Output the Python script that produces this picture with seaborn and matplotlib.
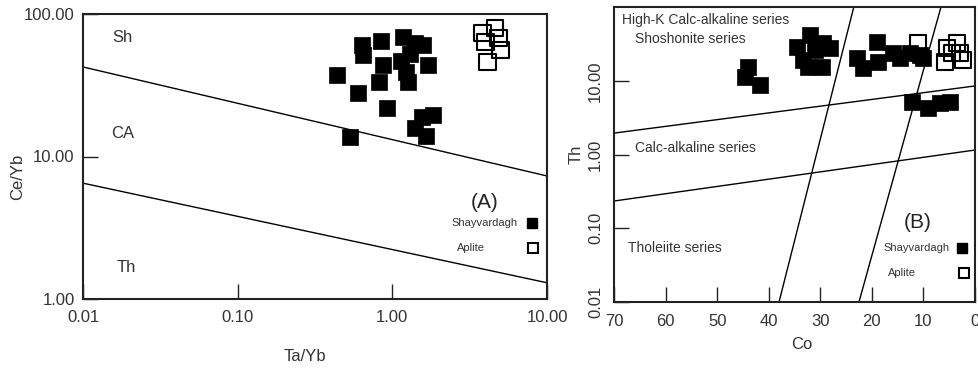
import numpy as np
import pandas as pd
import matplotlib
matplotlib.use("Agg")
import matplotlib.pyplot as plt
import seaborn as sns

# ---------------- data ----------------
# Panel A: Ce/Yb vs Ta/Yb
a_shay_tayb = [0.44, 0.60, 0.53, 0.93, 0.64, 0.65, 0.84, 0.87, 0.82, 1.18, 1.41,
               1.59, 1.13, 1.69, 1.27, 1.31, 1.22, 1.84, 1.56, 1.41, 1.64]
a_shay_ceyb = [37.3, 27.9, 13.7, 21.9, 60.6, 51.6, 64.7, 43.9, 33.3, 69.0, 62.6,
               60.6, 46.5, 43.9, 33.3, 52.0, 39.0, 19.6, 18.8, 15.8, 13.9]
a_apl_tayb = [3.83, 4.64, 4.00, 4.86, 5.00, 4.12]
a_apl_ceyb = [73.6, 79.8, 63.6, 67.9, 55.9, 46.0]
a_bound1_x = [0.01, 10.0]
a_bound1_y = [42.5, 7.3]
a_bound2_x = [0.01, 10.0]
a_bound2_y = [6.5, 1.3]
a_xticks = [0.01, 0.1, 1.0, 10.0]
a_xticklabels = ["0.01", "0.10", "1.00", "10.00"]
a_yticks = [1.0, 10.0, 100.0]
a_yticklabels = ["1.00", "10.00", "100.00"]

# Panel B: Th vs Co
b_shay_co = [44.0, 44.6, 41.7, 34.5, 32.0, 29.5, 28.1, 33.4, 29.7, 32.4, 31.0,
             22.9, 21.7, 19.0, 18.8, 15.9, 14.6, 12.6, 10.7, 10.1,
             12.2, 9.1, 6.8, 4.9]
b_shay_th = [15.4, 11.2, 8.8, 28.7, 41.7, 32.5, 27.8, 19.1, 15.4, 15.4, 26.1,
             20.3, 14.9, 33.5, 18.0, 23.8, 20.3, 23.8, 22.3, 20.3,
             5.15, 4.28, 4.99, 5.15]
b_apl_co = [11.1, 5.5, 3.5, 2.9, 5.9, 2.4, 4.5]
b_apl_th = [32.5, 27.8, 32.5, 23.8, 18.0, 19.1, 23.8]
b_h1_co = [70, 0]
b_h1_th = [1.95, 8.5]
b_h2_co = [70, 0]
b_h2_th = [0.234, 1.15]
b_s1_co = [38.0, 23.5]
b_s1_th = [0.01, 100.0]
b_s2_co = [22.5, 6.6]
b_s2_th = [0.01, 100.0]
b_xticks = [70, 60, 50, 40, 30, 20, 10, 0]
b_yticks = [0.01, 0.1, 1.0, 10.0]
b_yticklabels = ["0.01", "0.10", "1.00", "10.00"]

# ---------------- style ----------------
sns.set_style("ticks")
plt.rcParams['font.family'] = ['Liberation Sans', 'DejaVu Sans']
plt.rcParams['axes.linewidth'] = 1.5

fig = plt.figure(figsize=(9.79, 3.69), dpi=100)
axA = fig.add_axes([83/979, 1-299/369, 464/979, 285/369])
axB = fig.add_axes([614/979, 1-302/369, 361/979, 295/369])

MS = 135
TXT = 12

def style_ticks(ax):
    ax.tick_params(axis='both', which='major', direction='in', length=10.5,
                   width=1.0, labelsize=TXT, color='#222222', labelcolor='#333333')
    ax.tick_params(axis='both', which='minor', length=0)
    for s in ax.spines.values():
        s.set_color('#222222')

# ---------- Panel A ----------
dfa_s = pd.DataFrame({"x": a_shay_tayb, "y": a_shay_ceyb})
dfa_a = pd.DataFrame({"x": a_apl_tayb, "y": a_apl_ceyb})
axA.plot(a_bound1_x, a_bound1_y, color='black', lw=1.0)
axA.plot(a_bound2_x, a_bound2_y, color='black', lw=1.0)
sns.scatterplot(data=dfa_s, x="x", y="y", ax=axA, marker='s', s=MS,
                color='black', edgecolor='black', linewidth=0.5, zorder=3)
sns.scatterplot(data=dfa_a, x="x", y="y", ax=axA, marker='s', s=MS,
                facecolors='none', edgecolor='black', linewidth=1.5, zorder=3)
axA.set_xscale('log')
axA.set_yscale('log')
axA.set_xlim(0.01, 10)
axA.set_ylim(1, 100)
axA.set_xticks(a_xticks)
axA.set_xticklabels(a_xticklabels)
axA.set_yticks(a_yticks)
axA.set_yticklabels(a_yticklabels)
style_ticks(axA)
axA.tick_params(axis='x', pad=8)
axA.tick_params(axis='y', pad=6)
axA.set_xlabel("Ta/Yb", fontsize=TXT, color='#333333')
axA.set_ylabel("Ce/Yb", fontsize=TXT, color='#333333')
axA.xaxis.set_label_coords(0.478, -0.175)
axA.yaxis.set_label_coords(-0.125, 0.43)

axA.text(0.084, 0.916, "Sh", transform=axA.transAxes, ha='center', va='center', fontsize=TXT, color='#333333')
axA.text(0.086, 0.579, "CA", transform=axA.transAxes, ha='center', va='center', fontsize=TXT, color='#333333')
axA.text(0.093, 0.112, "Th", transform=axA.transAxes, ha='center', va='center', fontsize=TXT, color='#333333')
axA.text(0.866, 0.337, "(A)", transform=axA.transAxes, ha='center', va='center', fontsize=15, color='#222222')
axA.text(0.9375, 0.267, "Shayvardagh", transform=axA.transAxes, ha='right', va='center', fontsize=8, color='#333333')
axA.text(0.836, 0.179, "Aplite", transform=axA.transAxes, ha='center', va='center', fontsize=8, color='#333333')
axA.plot([0.968], [0.267], transform=axA.transAxes, marker='s', ms=7, color='black', clip_on=False)
axA.plot([0.970], [0.179], transform=axA.transAxes, marker='s', ms=7, mfc='white', mec='black', mew=1.5, clip_on=False)

# ---------- Panel B ----------
dfb_s = pd.DataFrame({"x": b_shay_co, "y": b_shay_th})
dfb_a = pd.DataFrame({"x": b_apl_co, "y": b_apl_th})
for cx, cy in [(b_h1_co, b_h1_th), (b_h2_co, b_h2_th), (b_s1_co, b_s1_th), (b_s2_co, b_s2_th)]:
    axB.plot(cx, cy, color='black', lw=1.0)
sns.scatterplot(data=dfb_s, x="x", y="y", ax=axB, marker='s', s=MS,
                color='black', edgecolor='black', linewidth=0.5, zorder=3)
sns.scatterplot(data=dfb_a, x="x", y="y", ax=axB, marker='s', s=MS,
                facecolors='none', edgecolor='black', linewidth=1.5, zorder=3)
axB.set_yscale('log')
axB.set_xlim(70, 0)
axB.set_ylim(0.01, 100)
axB.set_xticks(b_xticks)
axB.set_xticklabels([str(v) for v in b_xticks])
axB.set_yticks(b_yticks)
axB.set_yticklabels(b_yticklabels, rotation=90, va='center')
style_ticks(axB)
axB.tick_params(axis='x', pad=9)
axB.tick_params(axis='y', pad=8)
axB.set_xlabel("Co", fontsize=TXT, color='#333333')
axB.set_ylabel("Th", fontsize=TXT, color='#333333')
axB.xaxis.set_label_coords(0.52, -0.12)
axB.yaxis.set_label_coords(-0.083, 0.5)

axB.text(0.022, 0.956, "High-K Calc-alkaline series", transform=axB.transAxes, ha='left', va='center', fontsize=10, color='#333333')
axB.text(0.058, 0.892, "Shoshonite series", transform=axB.transAxes, ha='left', va='center', fontsize=10, color='#333333')
axB.text(0.058, 0.522, "Calc-alkaline series", transform=axB.transAxes, ha='left', va='center', fontsize=10, color='#333333')
axB.text(0.039, 0.183, "Tholeiite series", transform=axB.transAxes, ha='left', va='center', fontsize=10, color='#333333')
axB.text(0.842, 0.268, "(B)", transform=axB.transAxes, ha='center', va='center', fontsize=15, color='#222222')
axB.text(0.931, 0.183, "Shayvardagh", transform=axB.transAxes, ha='right', va='center', fontsize=8, color='#333333')
axB.text(0.798, 0.098, "Aplite", transform=axB.transAxes, ha='center', va='center', fontsize=8, color='#333333')
axB.plot([0.964], [0.183], transform=axB.transAxes, marker='s', ms=7, color='black', clip_on=False)
axB.plot([0.970], [0.098], transform=axB.transAxes, marker='s', ms=7, mfc='white', mec='black', mew=1.5, clip_on=False)

fig.savefig("out.png", dpi=100)
